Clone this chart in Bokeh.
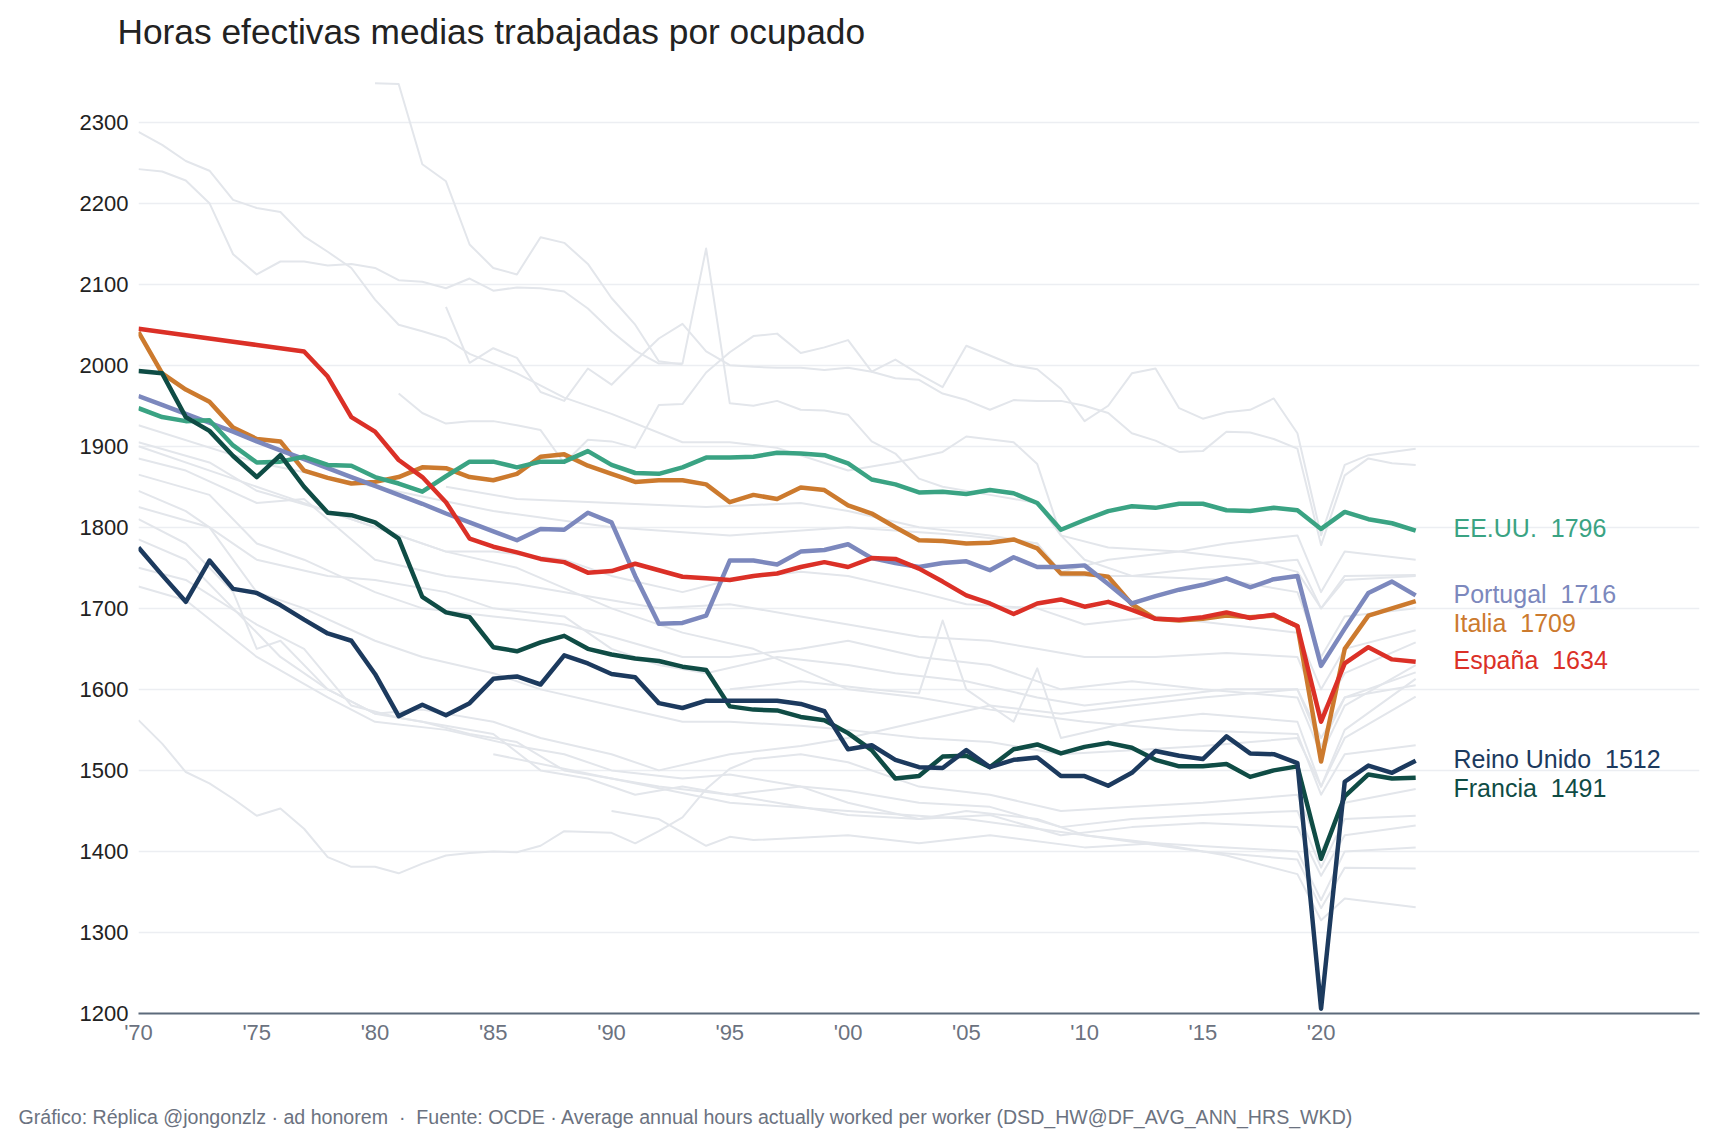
from bokeh.plotting import figure
from bokeh.models import Range1d, FixedTicker, Label, Title
from bokeh.embed import file_html
from bokeh.resources import INLINE

# ---------------- data ----------------
years = list(range(1970, 2025))

eeuu = [1947, 1936, 1931, 1932, 1901, 1880, 1881, 1887, 1877, 1876,
        1862, 1854, 1844, 1863, 1881, 1881, 1874, 1881, 1881, 1894,
        1877, 1867, 1866, 1874, 1886, 1886, 1887, 1892, 1891, 1889,
        1879, 1859, 1853, 1843, 1844, 1841, 1846, 1842, 1830, 1797,
        1809, 1820, 1826, 1824, 1829, 1829, 1821, 1820, 1824, 1821,
        1798, 1819, 1810, 1805, 1796]

portugal = [1962, 1951, 1940, 1929, 1918, 1906, 1895, 1884, 1873, 1862,
            1851, 1840, 1829, 1817, 1806, 1795, 1784, 1798, 1797, 1818,
            1806, 1740, 1681, 1682, 1691, 1759, 1759, 1754, 1770, 1772,
            1779, 1762, 1756, 1751, 1756, 1758, 1747, 1763, 1751, 1751,
            1753, 1730, 1706, 1715, 1723, 1729, 1737, 1726, 1736, 1740,
            1629, 1675, 1719, 1733, 1716]

italia = [2041, 1990, 1970, 1955, 1923, 1909, 1906, 1870, 1861, 1854,
          1856, 1862, 1874, 1873, 1862, 1858, 1866, 1887, 1890, 1876,
          1866, 1856, 1858, 1858, 1853, 1831, 1840, 1835, 1849, 1846,
          1827, 1817, 1800, 1784, 1783, 1780, 1781, 1785, 1774, 1743,
          1743, 1739, 1705, 1687, 1685, 1687, 1691, 1689, 1691, 1678,
          1511, 1650, 1691, 1700, 1709]

espana = [2045, 2041, 2037, 2033, 2029, 2025, 2021, 2017, 1986, 1936,
          1918, 1883, 1862, 1831, 1786, 1776, 1769, 1761, 1757, 1744,
          1746, 1755, 1747, 1739, 1737, 1735, 1740, 1743, 1751, 1757,
          1751, 1762, 1761, 1749, 1733, 1716, 1706, 1693, 1706, 1711,
          1702, 1708, 1698, 1687, 1686, 1689, 1695, 1688, 1692, 1678,
          1560, 1632, 1652, 1637, 1634]

reino_unido = [1775, 1741, 1708, 1759, 1724, 1719, 1704, 1686, 1669, 1660,
               1619, 1567, 1581, 1568, 1583, 1613, 1616, 1606, 1642, 1632,
               1619, 1615, 1583, 1577, 1586, 1586, 1586, 1586, 1582, 1573,
               1526, 1531, 1513, 1504, 1503, 1525, 1504, 1513, 1516, 1493,
               1493, 1481, 1497, 1524, 1518, 1514, 1542, 1521, 1520, 1509,
               1206, 1486, 1506, 1497, 1512]

francia = [1993, 1990, 1936, 1919, 1888, 1862, 1889, 1850, 1818, 1815,
           1806, 1786, 1714, 1695, 1689, 1652, 1647, 1658, 1666, 1650,
           1643, 1638, 1635, 1628, 1624, 1579, 1575, 1574, 1566, 1562,
           1546, 1525, 1490, 1493, 1517, 1518, 1504, 1526, 1532, 1521,
           1529, 1534, 1528, 1513, 1505, 1505, 1508, 1492, 1500, 1505,
           1391, 1468, 1495, 1490, 1491]

# other OECD countries (grey background), (year, hours) pairs
others = [
    [(1970, 2288), (1971, 2272), (1972, 2252), (1973, 2240), (1974, 2204), (1975, 2194), (1976, 2189),
     (1977, 2159), (1978, 2140), (1979, 2120), (1980, 2081), (1981, 2050), (1982, 2042), (1983, 2033),
     (1984, 2014), (1986, 1990), (1988, 1960), (1990, 1940), (1993, 1905), (1995, 1905), (1997, 1898),
     (2000, 1870), (2002, 1880), (2004, 1893), (2005, 1912), (2007, 1905), (2008, 1878), (2009, 1790),
     (2010, 1760), (2012, 1740), (2016, 1735), (2019, 1720), (2020, 1640), (2021, 1690), (2024, 1700)],
    [(1970, 2242), (1971, 2239), (1972, 2228), (1973, 2200), (1974, 2137), (1975, 2112), (1976, 2128),
     (1977, 2128), (1978, 2123), (1979, 2125), (1980, 2120), (1981, 2105), (1982, 2103), (1983, 2095),
     (1984, 2107), (1985, 2092), (1986, 2096), (1987, 2095), (1988, 2091), (1989, 2070), (1990, 2042),
     (1991, 2018), (1992, 2002), (1993, 2002), (1994, 2144), (1995, 1953), (1996, 1950), (1997, 1956),
     (1998, 1945), (1999, 1944), (2000, 1939), (2001, 1906), (2002, 1891), (2003, 1860), (2004, 1850),
     (2006, 1840), (2008, 1830), (2009, 1790), (2011, 1775), (2014, 1770), (2017, 1760), (2019, 1745),
     (2020, 1700), (2021, 1735), (2024, 1740)],
    [(1980, 2348), (1981, 2347), (1982, 2248), (1983, 2227), (1984, 2149), (1985, 2120), (1986, 2112),
     (1987, 2158), (1988, 2151), (1989, 2125), (1990, 2083), (1991, 2050), (1992, 2005), (1993, 2001)],
    [(1983, 2072), (1984, 2003), (1985, 2021), (1986, 2009), (1987, 1967), (1988, 1956), (1989, 1996),
     (1990, 1976), (1991, 2005), (1992, 2033), (1993, 2051), (1994, 2017), (1995, 2000), (1996, 1998),
     (1997, 1997), (1998, 1997), (1999, 1994), (2000, 1997), (2001, 1992), (2002, 1984), (2003, 1982),
     (2004, 1965), (2005, 1957), (2006, 1945), (2007, 1957), (2008, 1956), (2009, 1956), (2010, 1950),
     (2011, 1941), (2012, 1916), (2013, 1907), (2014, 1893), (2015, 1894), (2016, 1918), (2017, 1917),
     (2018, 1909), (2019, 1897), (2020, 1778), (2021, 1864), (2022, 1885), (2023, 1879), (2024, 1877)],
    [(1981, 1965), (1982, 1941), (1983, 1928), (1984, 1931), (1985, 1931), (1986, 1926), (1987, 1920),
     (1988, 1879), (1989, 1908), (1990, 1906), (1991, 1898), (1992, 1951), (1993, 1952), (1994, 1991),
     (1995, 2016), (1996, 2036), (1997, 2039), (1998, 2015), (1999, 2022), (2000, 2031), (2001, 1992),
     (2002, 2007), (2003, 1989), (2004, 1973), (2005, 2024), (2006, 2012), (2007, 2000), (2008, 1995),
     (2009, 1971), (2010, 1931), (2011, 1950), (2012, 1990), (2013, 1996), (2014, 1947), (2015, 1934),
     (2016, 1942), (2017, 1945), (2018, 1959), (2019, 1916), (2020, 1790), (2021, 1877), (2022, 1889),
     (2023, 1893), (2024, 1897)],
    [(1970, 1926), (1975, 1880), (1980, 1850), (1985, 1820), (1990, 1800), (1995, 1790), (2000, 1800),
     (2005, 1790), (2008, 1780), (2009, 1740), (2012, 1740), (2015, 1750), (2019, 1760), (2020, 1700),
     (2021, 1740), (2024, 1741)],
    [(1970, 1905), (1973, 1880), (1975, 1845), (1978, 1820), (1980, 1800), (1983, 1770), (1985, 1770),
     (1988, 1760), (1990, 1740), (1993, 1720), (1995, 1735), (1998, 1745), (2000, 1740), (2003, 1720),
     (2005, 1705), (2008, 1700), (2010, 1680), (2013, 1690), (2016, 1680), (2019, 1670), (2020, 1600),
     (2021, 1650), (2024, 1673)],
    [(1970, 1885), (1972, 1870), (1975, 1830), (1977, 1835), (1980, 1760), (1983, 1740), (1986, 1730),
     (1990, 1710), (1992, 1700), (1995, 1705), (1998, 1690), (2000, 1680), (2003, 1665), (2006, 1660),
     (2008, 1650), (2010, 1640), (2013, 1640), (2016, 1645), (2019, 1640), (2020, 1570), (2021, 1620),
     (2024, 1658)],
    [(1970, 1865), (1973, 1840), (1975, 1780), (1977, 1760), (1980, 1720), (1982, 1700), (1985, 1690),
     (1988, 1680), (1990, 1665), (1993, 1640), (1995, 1640), (1998, 1650), (2000, 1660), (2003, 1640),
     (2006, 1630), (2009, 1600), (2012, 1610), (2015, 1600), (2019, 1590), (2020, 1520), (2021, 1580),
     (2024, 1630)],
    [(1970, 1845), (1972, 1820), (1975, 1760), (1978, 1740), (1980, 1735), (1983, 1720), (1985, 1700),
     (1988, 1690), (1990, 1650), (1992, 1630), (1994, 1620), (1997, 1640), (2000, 1630), (2002, 1620),
     (2005, 1610), (2008, 1590), (2010, 1580), (2013, 1590), (2016, 1600), (2019, 1600), (2020, 1540),
     (2021, 1590), (2024, 1621)],
    [(1970, 1825), (1973, 1800), (1975, 1720), (1977, 1700), (1980, 1660), (1982, 1640), (1985, 1620),
     (1987, 1600), (1990, 1580), (1993, 1560), (1995, 1560), (1998, 1555), (2000, 1550), (2003, 1540),
     (2006, 1535), (2009, 1520), (2012, 1525), (2015, 1530), (2019, 1540), (2020, 1480), (2021, 1550),
     (2024, 1613)],
    [(1970, 1810), (1972, 1780), (1974, 1720), (1975, 1650), (1976, 1660), (1978, 1600), (1980, 1570),
     (1982, 1575), (1985, 1560), (1987, 1540), (1990, 1520), (1992, 1500), (1995, 1520), (1998, 1530),
     (2000, 1540), (2003, 1560), (2006, 1580), (2009, 1570), (2012, 1580), (2015, 1590), (2019, 1600),
     (2020, 1530), (2021, 1590), (2024, 1605)],
    [(1970, 1785), (1972, 1760), (1974, 1700), (1976, 1640), (1978, 1600), (1980, 1570), (1982, 1560),
     (1984, 1545), (1986, 1535), (1988, 1500), (1990, 1490), (1992, 1480), (1995, 1470), (1998, 1480),
     (2000, 1475), (2003, 1460), (2006, 1455), (2009, 1430), (2012, 1440), (2015, 1445), (2019, 1450),
     (2020, 1380), (2021, 1440), (2024, 1444)],
    [(1970, 1750), (1972, 1735), (1975, 1680), (1977, 1650), (1979, 1580), (1981, 1565), (1983, 1555),
     (1985, 1545), (1987, 1500), (1989, 1490), (1991, 1470), (1993, 1480), (1995, 1470), (1997, 1460),
     (2000, 1445), (2003, 1440), (2006, 1445), (2009, 1420), (2012, 1430), (2015, 1435), (2019, 1430),
     (2020, 1370), (2021, 1420), (2024, 1432)],
    [(1970, 1727), (1972, 1710), (1975, 1640), (1978, 1590), (1980, 1560), (1983, 1550), (1986, 1530),
     (1988, 1520), (1990, 1500), (1993, 1490), (1995, 1495), (1998, 1480), (2000, 1460), (2003, 1440),
     (2005, 1450), (2008, 1440), (2010, 1420), (2013, 1410), (2016, 1405), (2019, 1400), (2020, 1340),
     (2021, 1400), (2024, 1405)],
    [(1970, 1562), (1971, 1533), (1972, 1498), (1973, 1484), (1974, 1465), (1975, 1444), (1976, 1453),
     (1977, 1428), (1978, 1393), (1979, 1381), (1980, 1381), (1981, 1373), (1982, 1385), (1983, 1395),
     (1984, 1398), (1985, 1400), (1986, 1399), (1987, 1407), (1988, 1425), (1989, 1424), (1990, 1423),
     (1991, 1410), (1992, 1425), (1993, 1442), (1994, 1477), (1995, 1502), (1996, 1514), (1998, 1520),
     (2000, 1510), (2003, 1480), (2006, 1470), (2009, 1450), (2012, 1455), (2015, 1460), (2019, 1470),
     (2020, 1400), (2021, 1460), (2024, 1477)],
    [(1990, 1450), (1992, 1440), (1994, 1407), (1995, 1418), (1996, 1414), (2000, 1420), (2003, 1410),
     (2006, 1420), (2010, 1405), (2013, 1410), (2016, 1395), (2019, 1372), (2020, 1315), (2021, 1342),
     (2024, 1331)],
    [(1985, 1520), (1990, 1490), (1995, 1460), (2000, 1450), (2005, 1440), (2010, 1420), (2015, 1400),
     (2019, 1390), (2020, 1330), (2021, 1380), (2024, 1379)],
    [(1970, 1900), (1974, 1860), (1976, 1840), (1980, 1800), (1983, 1770), (1986, 1750), (1990, 1700),
     (1993, 1670), (1996, 1650), (2000, 1600), (2003, 1590), (2006, 1575), (2010, 1560), (2014, 1550),
     (2019, 1545), (2020, 1470), (2021, 1520), (2024, 1531)],
    [(1983, 1850), (1986, 1835), (1990, 1830), (1994, 1825), (1998, 1830), (2000, 1820), (2003, 1800),
     (2006, 1790), (2008, 1780), (2009, 1745), (2011, 1760), (2014, 1770), (2016, 1780), (2019, 1790),
     (2020, 1720), (2021, 1770), (2024, 1760)],
    [(1995, 1600), (1998, 1610), (2001, 1600), (2003, 1595), (2004, 1685), (2005, 1600), (2007, 1560),
     (2008, 1626), (2009, 1540), (2012, 1560), (2015, 1570), (2019, 1560), (2020, 1480), (2021, 1540),
     (2024, 1591)],
]

names = ["Italia", "Portugal", "EE.UU.", "España", "Francia", "Reino Unido"]
series = [italia, portugal, eeuu, espana, francia, reino_unido]

x_ticks = [1970, 1975, 1980, 1985, 1990, 1995, 2000, 2005, 2010, 2015, 2020]
x_tick_labels = ["'70", "'75", "'80", "'85", "'90", "'95", "'00", "'05", "'10", "'15", "'20"]
y_ticks = [1200, 1300, 1400, 1500, 1600, 1700, 1800, 1900, 2000, 2100, 2200, 2300]

title_text = "Horas efectivas medias trabajadas por ocupado"
footer_text = ("Gráfico: Réplica @jongonzlz · ad honorem\u00a0\u00a0·\u00a0\u00a0Fuente: OCDE · "
               "Average annual hours actually worked per worker (DSD_HW@DF_AVG_ANN_HRS_WKD)")

# ---------------- style ----------------
colors = {"Italia": "#cc7a2e", "Portugal": "#7c88bd", "EE.UU.": "#3aa383",
          "España": "#db3027", "Francia": "#0f4c45", "Reino Unido": "#1c3a5e"}
# label vertical placement (hours units, nudged to avoid overlap)
label_pos = {"EE.UU.": 1799, "Portugal": 1718, "Italia": 1682, "España": 1636,
             "Reino Unido": 1514, "Francia": 1478}
FONT = "Liberation Sans"

p = figure(width=1719, height=1145, output_backend="svg", toolbar_location=None,
           x_range=Range1d(1970, 2036), y_range=Range1d(1200, 2360),
           min_border_left=138, min_border_right=20, min_border_top=73, min_border_bottom=132)
p.outline_line_color = None
p.background_fill_color = "white"
p.border_fill_color = "white"

# spacer between frame and title, then the title itself (first added = closest to frame)
p.add_layout(Title(text=" ", text_font_size="10px", standoff=10, text_color="white"), "above")
p.add_layout(Title(text=title_text, align="left", offset=-21, standoff=0,
                   text_font=FONT, text_font_size="35.3px", text_font_style="normal",
                   text_color="#222222"), "above")

p.xgrid.visible = False
p.ygrid.ticker = FixedTicker(ticks=y_ticks[1:])
p.ygrid.grid_line_color = "#eceef2"
p.ygrid.grid_line_width = 1.5

xa = p.xaxis[0]
xa.ticker = FixedTicker(ticks=x_ticks)
xa.major_label_overrides = {t: l for t, l in zip(x_ticks, x_tick_labels)}
xa.axis_line_color = "#5c6a7b"
xa.axis_line_width = 2
xa.major_tick_line_color = None
xa.minor_tick_line_color = None
xa.major_tick_out = 0
xa.major_tick_in = 0
xa.minor_tick_out = 0
xa.major_label_text_color = "#6b7280"
xa.major_label_text_font = FONT
xa.major_label_text_font_size = "22px"
xa.major_label_standoff = 6

ya = p.yaxis[0]
ya.ticker = FixedTicker(ticks=y_ticks)
ya.axis_line_color = None
ya.major_tick_line_color = None
ya.minor_tick_line_color = None
ya.major_tick_out = 0
ya.major_tick_in = 0
ya.minor_tick_out = 0
ya.major_label_text_color = "#222222"
ya.major_label_text_font = FONT
ya.major_label_text_font_size = "22px"
ya.major_label_standoff = 10

for pts in others:
    p.line([a for a, b in pts], [b for a, b in pts], line_color="#e3e6eb", line_width=2,
           line_join="round")

for name, vals in zip(names, series):
    p.line(years, vals, line_color=colors[name], line_width=4.5, line_join="round")

for name, vals in zip(names, series):
    p.add_layout(Label(x=2025.6, y=label_pos[name], text=f"{name}\u00a0\u00a0{vals[-1]}",
                       text_color=colors[name], text_font=FONT, text_font_size="25px",
                       text_align="left", text_baseline="middle"))

# spacer below the axis, then the source footer
p.add_layout(Title(text=" ", text_font_size="10px", standoff=43, text_color="white"), "below")
p.add_layout(Title(text=footer_text, align="left", offset=-120, standoff=0,
                   text_font=FONT, text_font_size="19.6px", text_font_style="normal",
                   text_color="#6b7280"), "below")

open("out.html", "w").write(file_html(p, INLINE))
